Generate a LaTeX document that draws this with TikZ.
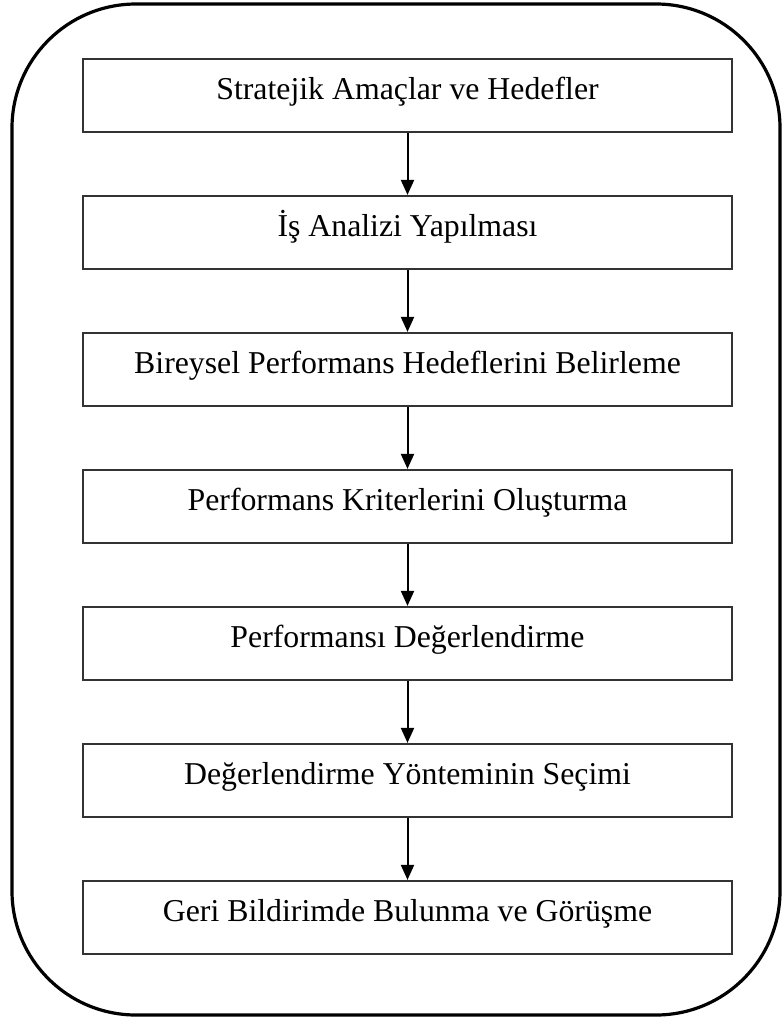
\documentclass[tikz,border=0pt]{standalone}
\usepackage{fontspec}
\setmainfont{Liberation Serif}
\usepackage{tikz}
\usetikzlibrary{positioning,arrows.meta}

\begin{document}
\begin{tikzpicture}[node distance=30.9pt,>={Triangle[width=6.5pt,length=7.5pt]},
  blk/.style={draw=black!80,line width=1.1pt,minimum width=324.5pt,inner sep=0pt,
    text height=20pt,text depth=16.5pt,font=\fontsize{15.9}{19}\selectfont}]
  \useasboundingbox (0,0) rectangle (391pt,-511.5pt);
  \draw[line width=1.6pt,rounded corners=62pt] (6pt,-2pt) rectangle (390pt,-507.5pt);

  \node[blk] (b1) at (203.75pt,-47.75pt) {Stratejik Amaçlar ve Hedefler};
  \node[blk,below=of b1] (b2) {İş Analizi Yapılması};
  \node[blk,below=of b2] (b3) {Bireysel Performans Hedeflerini Belirleme};
  \node[blk,below=of b3] (b4) {Performans Kriterlerini Oluşturma};
  \node[blk,below=of b4] (b5) {Performansı Değerlendirme};
  \node[blk,below=of b5] (b6) {Değerlendirme Yönteminin Seçimi};
  \node[blk,below=of b6] (b7) {Geri Bildirimde Bulunma ve Görüşme};

  \foreach \a/\b in {b1/b2,b2/b3,b3/b4,b4/b5,b5/b6,b6/b7}
    \draw[->,line width=1pt] (\a) -- (\b);
\end{tikzpicture}
\end{document}
